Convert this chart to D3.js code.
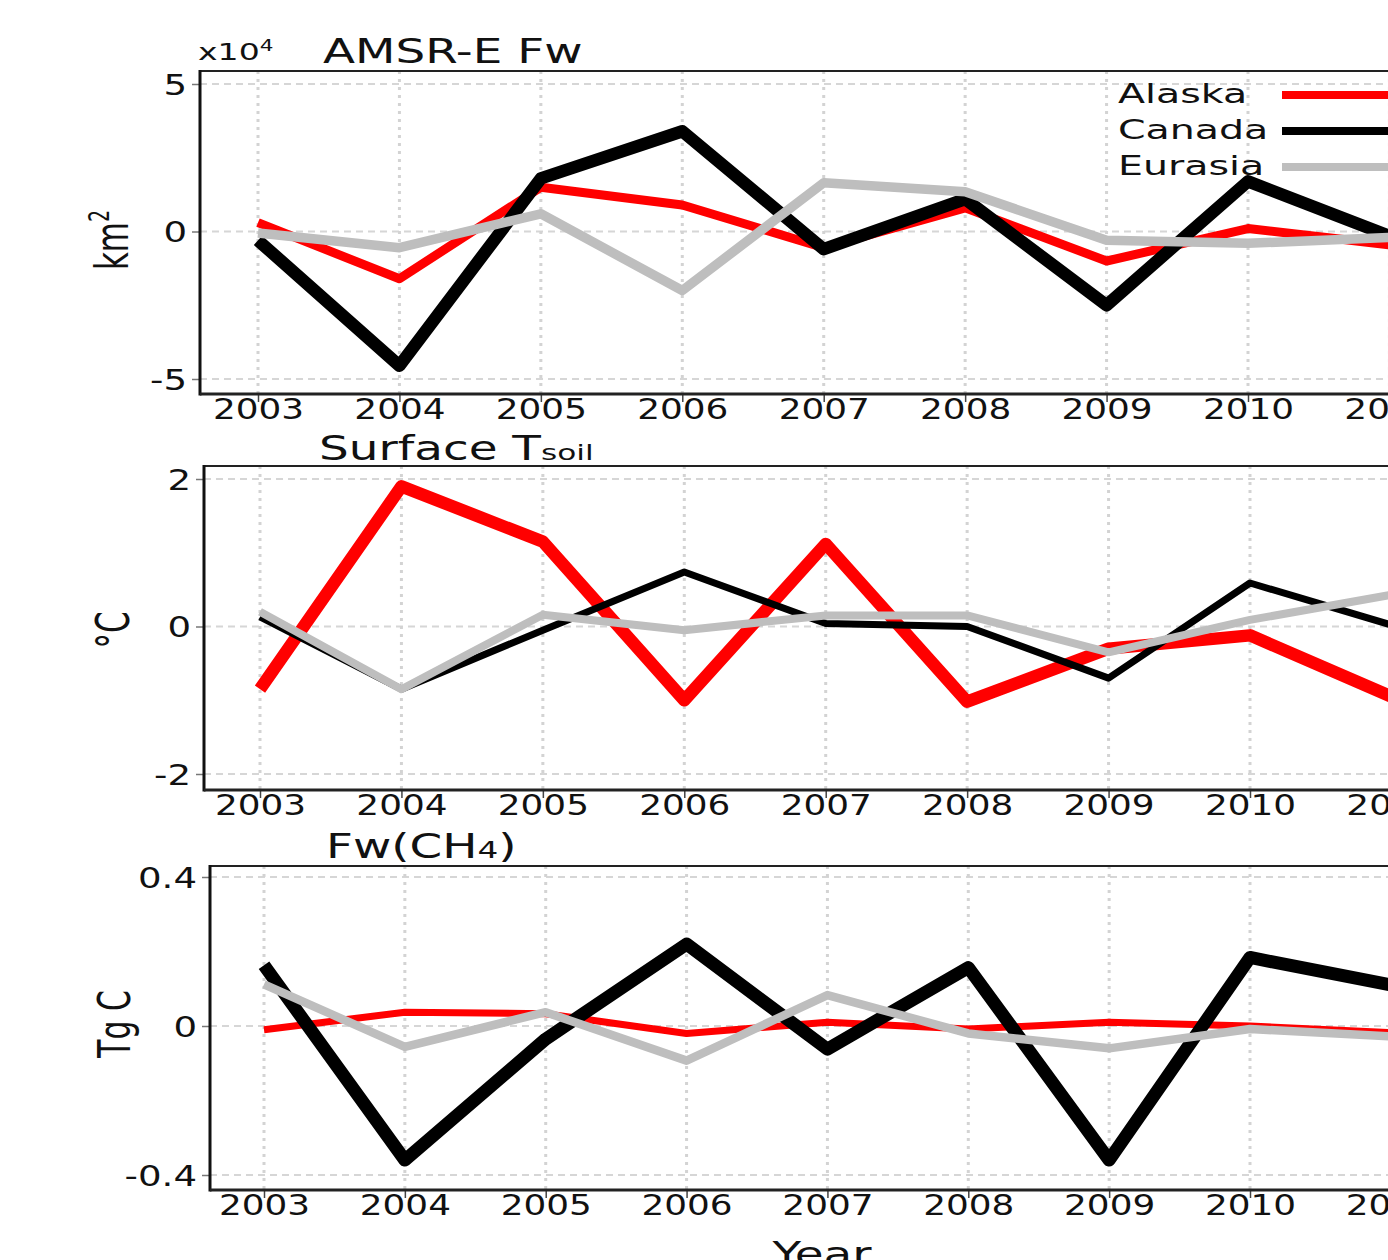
<!DOCTYPE html>
<html>
<head>
<meta charset="utf-8">
<script src="https://cdn.jsdelivr.net/npm/d3@7"></script>
<style>
  body { margin: 0; background: #fff; }
  svg { display: block; font-family: "DejaVu Sans", sans-serif; }
</style>
</head>
<body>
<div id="chart"></div>
<script>
const WIDTH = 1388;
const HEIGHT = 1260;

// data
const years = [2003, 2004, 2005, 2006, 2007, 2008, 2009, 2010, 2011];
const regions = ["Alaska", "Canada", "Eurasia"];
const regionColors = ["#ff0000", "#000000", "#bebebe"];

// AMSR-E Fw anomaly (x10^4 km2)
const fwAlaska  = [0.3, -1.6, 1.5, 0.9, -0.55, 0.8, -1.0, 0.1, -0.45];
const fwCanada  = [-0.3, -4.55, 1.8, 3.4, -0.6, 1.1, -2.5, 1.7, -0.15];
const fwEurasia = [-0.05, -0.55, 0.6, -2.0, 1.65, 1.35, -0.3, -0.4, -0.2];
const fwTicks = [-5, 0, 5];

// Surface Tsoil anomaly (C)
const tsAlaska  = [-0.85, 1.9, 1.15, -1.0, 1.12, -1.02, -0.3, -0.12, -0.95];
const tsCanada  = [0.13, -0.85, -0.05, 0.74, 0.04, 0.0, -0.7, 0.59, 0.02];
const tsEurasia = [0.2, -0.85, 0.16, -0.05, 0.15, 0.15, -0.35, 0.09, 0.43];
const tsTicks = [-2, 0, 2];

// Fw(CH4) anomaly (Tg C)
const chAlaska  = [-0.01, 0.037, 0.033, -0.02, 0.01, -0.008, 0.01, 0.0, -0.018];
const chCanada  = [0.163, -0.36, -0.035, 0.22, -0.062, 0.157, -0.36, 0.184, 0.11];
const chEurasia = [0.112, -0.056, 0.037, -0.093, 0.083, -0.02, -0.06, -0.008, -0.028];
const chTicks = [-0.4, 0, 0.4];

const panels = [
    {series: [fwAlaska, fwCanada, fwEurasia], ticks: fwTicks, fmt: d3.format("d"),
     widths: [9, 12.5, 9.5],
     box: {left: 200, top: 71, bottom: 394, x0: 258, x1: 1248, yTop: 84, yBot: 379}},
    {series: [tsAlaska, tsCanada, tsEurasia], ticks: tsTicks, fmt: d3.format("d"),
     widths: [12.5, 7, 8],
     box: {left: 204, top: 466, bottom: 790, x0: 260, x1: 1250, yTop: 479, yBot: 774}},
    {series: [chAlaska, chCanada, chEurasia], ticks: chTicks, fmt: d => d === 0 ? "0" : d3.format(".1f")(d),
     widths: [7, 13, 8.5],
     box: {left: 210, top: 866, bottom: 1190, x0: 264, x1: 1250, yTop: 877, yBot: 1175}}
];

const TICK_SX = 1.28;

const svg = d3.select("#chart")
    .append("svg")
    .attr("width", WIDTH)
    .attr("height", HEIGHT);

function stretchedText(parent, x, y, size, sx, anchor) {
    return parent.append("text")
        .attr("transform", `translate(${x},${y}) scale(${sx},1)`)
        .attr("font-size", size)
        .attr("text-anchor", anchor || "start")
        .attr("fill", "#111");
}

panels.forEach(p => {
    const b = p.box;
    const x = d3.scaleLinear().domain([2003, 2010]).range([b.x0, b.x1]);
    const y = d3.scaleLinear().domain([p.ticks[0], p.ticks[2]]).range([b.yBot, b.yTop]);
    const g = svg.append("g");

    // grid
    g.selectAll(".hgrid")
        .data(p.ticks)
        .join("line")
        .attr("x1", b.left).attr("x2", WIDTH)
        .attr("y1", d => y(d)).attr("y2", d => y(d))
        .attr("stroke", "#d6d6d6")
        .attr("stroke-width", 2)
        .attr("stroke-dasharray", "7,5");

    g.selectAll(".vgrid")
        .data(years)
        .join("line")
        .attr("x1", d => x(d)).attr("x2", d => x(d))
        .attr("y1", b.top).attr("y2", b.bottom)
        .attr("stroke", "#d3d3d3")
        .attr("stroke-width", 3)
        .attr("stroke-dasharray", "3,5");

    // series
    const line = d3.line()
        .x((d, i) => x(years[i]))
        .y(d => y(d));

    p.series.forEach((s, i) => {
        g.append("path")
            .datum(s)
            .attr("d", line)
            .attr("fill", "none")
            .attr("stroke", regionColors[i])
            .attr("stroke-width", p.widths[i])
            .attr("stroke-linejoin", "round")
            .attr("stroke-linecap", "butt");
    });

    // axes
    const yAxis = g.append("g")
        .attr("transform", `translate(${b.left},0)`)
        .call(d3.axisLeft(y).tickValues(p.ticks).tickFormat(p.fmt).tickSize(8).tickSizeOuter(0));
    yAxis.select(".domain").remove();
    yAxis.selectAll(".tick line").attr("stroke", "#777").attr("stroke-width", 1.5);
    yAxis.selectAll(".tick text")
        .attr("font-size", 29)
        .attr("font-family", "DejaVu Sans")
        .attr("fill", "#111")
        .attr("x", -13 / TICK_SX)
        .attr("dy", "0.36em")
        .attr("transform", `scale(${TICK_SX},1)`)
        .text(d => p.fmt(d).replace("\u2212", "-"));

    const xAxis = g.append("g")
        .attr("transform", `translate(0,${b.bottom})`)
        .call(d3.axisBottom(x).tickValues(years).tickFormat(d3.format("d")).tickSize(8).tickSizeOuter(0));
    xAxis.select(".domain").remove();
    xAxis.selectAll(".tick line").attr("stroke", "#444").attr("stroke-width", 1.5);
    xAxis.selectAll(".tick text")
        .attr("font-size", 28)
        .attr("font-family", "DejaVu Sans")
        .attr("fill", "#111")
        .attr("y", 5)
        .attr("dy", "0.73em")
        .attr("transform", `scale(${TICK_SX},1)`);

    // frame
    g.append("line")
        .attr("x1", b.left).attr("x2", WIDTH)
        .attr("y1", b.top).attr("y2", b.top)
        .attr("stroke", "#222").attr("stroke-width", 2);
    g.append("line")
        .attr("x1", b.left).attr("x2", b.left)
        .attr("y1", b.top - 1).attr("y2", b.bottom + 1.5)
        .attr("stroke", "#111").attr("stroke-width", 3);
    g.append("line")
        .attr("x1", b.left).attr("x2", WIDTH)
        .attr("y1", b.bottom).attr("y2", b.bottom)
        .attr("stroke", "#222").attr("stroke-width", 3);
});

// titles
const TITLE_SX = 1.42;
const t1 = stretchedText(svg, 198, 60, 23, 1.44);
t1.append("tspan").text("x10");
t1.append("tspan").attr("font-size", 15).attr("dy", -9).text("4");

stretchedText(svg, 323, 63, 33, TITLE_SX).text("AMSR-E Fw");

const t2 = stretchedText(svg, 319, 460, 33, TITLE_SX);
t2.append("tspan").text("Surface T");
t2.append("tspan").attr("font-size", 22).text("soil");

const t3 = stretchedText(svg, 326, 858, 33, TITLE_SX);
t3.append("tspan").text("Fw(CH");
t3.append("tspan").attr("font-size", 23).text("4");
t3.append("tspan").text(")");

stretchedText(svg, 822, 1266, 33, TITLE_SX, "middle").text("Year");

// y labels (rotated, stretched across)
function yLabel(x, y, size) {
    return svg.append("text")
        .attr("transform", `translate(${x},${y}) rotate(-90) scale(1,1.5)`)
        .attr("font-size", size)
        .attr("text-anchor", "middle")
        .attr("fill", "#111");
}
const k = yLabel(128, 240, 31);
k.append("tspan").text("km");
k.append("tspan").attr("font-size", 19).attr("dy", -13).text("2");
yLabel(129, 630, 31).text("°C");
yLabel(130, 1024, 30).text("Tg C");

// legend
const legendRows = [103, 139, 175];
regions.forEach((r, i) => {
    stretchedText(svg, 1118, legendRows[i], 26, 1.52).text(r);
    svg.append("line")
        .attr("x1", 1282).attr("x2", WIDTH)
        .attr("y1", legendRows[i] - 8).attr("y2", legendRows[i] - 8)
        .attr("stroke", regionColors[i])
        .attr("stroke-width", 8);
});
</script>
</body>
</html>
